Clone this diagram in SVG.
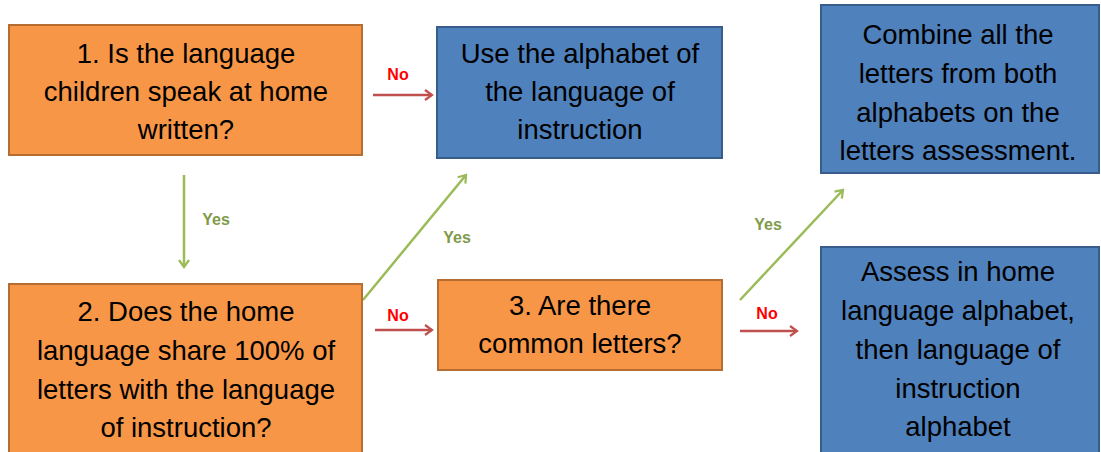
<svg xmlns="http://www.w3.org/2000/svg" width="1101" height="452" viewBox="0 0 1101 452">
<style>
.o{fill:#f79646;stroke:#b66d31;stroke-width:2}
.b{fill:#4f81bd;stroke:#385d8a;stroke-width:2}
.t{font-family:"Liberation Sans",Arial,sans-serif;font-size:27.5px;fill:#000;text-anchor:middle}
.no{font-family:"Liberation Sans",Arial,sans-serif;font-size:16px;font-weight:bold;fill:#ff0000;text-anchor:middle}
.yes{font-family:"Liberation Sans",Arial,sans-serif;font-size:16px;font-weight:bold;fill:#7f9a48;text-anchor:middle}
.r{stroke:#c0504d;stroke-width:2.5;fill:none;marker-end:url(#mr)}
.g{stroke:#9bbb59;stroke-width:2.5;fill:none;marker-end:url(#mg)}
</style>
<defs>
<marker id="mr" viewBox="0 0 12 12" refX="10" refY="6" markerWidth="12" markerHeight="12" markerUnits="userSpaceOnUse" orient="auto"><path d="M3,1 L10,6 L3,11" fill="none" stroke="#c0504d" stroke-width="2.2"/></marker>
<marker id="mg" viewBox="0 0 12 12" refX="10" refY="6" markerWidth="12" markerHeight="12" markerUnits="userSpaceOnUse" orient="auto"><path d="M3,1 L10,6 L3,11" fill="none" stroke="#9bbb59" stroke-width="2.2"/></marker>
</defs>
<rect width="1101" height="452" fill="#fff"/>
<g id="connectors">
<line class="r" x1="373" y1="95" x2="432" y2="95"/>
<line class="g" x1="184" y1="175" x2="184" y2="267"/>
<line class="g" x1="363" y1="300" x2="466" y2="175"/>
<line class="r" x1="375" y1="330" x2="432" y2="330"/>
<line class="g" x1="740" y1="300" x2="843" y2="190"/>
<line class="r" x1="740" y1="331" x2="797" y2="331"/>
<text class="no" x="398" y="80">No</text>
<text class="yes" x="216" y="225">Yes</text>
<text class="yes" x="457" y="243">Yes</text>
<text class="no" x="398" y="321">No</text>
<text class="yes" x="768" y="230">Yes</text>
<text class="no" x="767" y="319">No</text>
</g>
<g id="q1">
<rect class="o" x="9" y="25" width="353" height="130"/>
<text class="t" x="186" y="63">1. Is the language</text>
<text class="t" x="186" y="101">children speak at home</text>
<text class="t" x="186" y="139">written?</text>
</g>
<g id="useLOI">
<rect class="b" x="437" y="27" width="285" height="131"/>
<text class="t" x="580" y="63">Use the alphabet of</text>
<text class="t" x="580" y="101">the language of</text>
<text class="t" x="580" y="139">instruction</text>
</g>
<g id="combine">
<rect class="b" x="821" y="5" width="278" height="168"/>
<text class="t" x="958" y="44">Combine all the</text>
<text class="t" x="958" y="83">letters from both</text>
<text class="t" x="958" y="122">alphabets on the</text>
<text class="t" x="958" y="160">letters assessment.</text>
</g>
<g id="q2">
<rect class="o" x="9" y="284" width="353" height="172"/>
<text class="t" x="186" y="321">2. Does the home</text>
<text class="t" x="186" y="360">language share 100% of</text>
<text class="t" x="186" y="399">letters with the language</text>
<text class="t" x="186" y="437">of instruction?</text>
</g>
<g id="q3">
<rect class="o" x="438" y="280" width="284" height="90"/>
<text class="t" x="580" y="315">3. Are there</text>
<text class="t" x="580" y="353">common letters?</text>
</g>
<g id="assess">
<rect class="b" x="821" y="247" width="278" height="209"/>
<text class="t" x="958" y="281">Assess in home</text>
<text class="t" x="958" y="320">language alphabet,</text>
<text class="t" x="958" y="359">then language of</text>
<text class="t" x="958" y="398">instruction</text>
<text class="t" x="958" y="436">alphabet</text>
</g>
</svg>
